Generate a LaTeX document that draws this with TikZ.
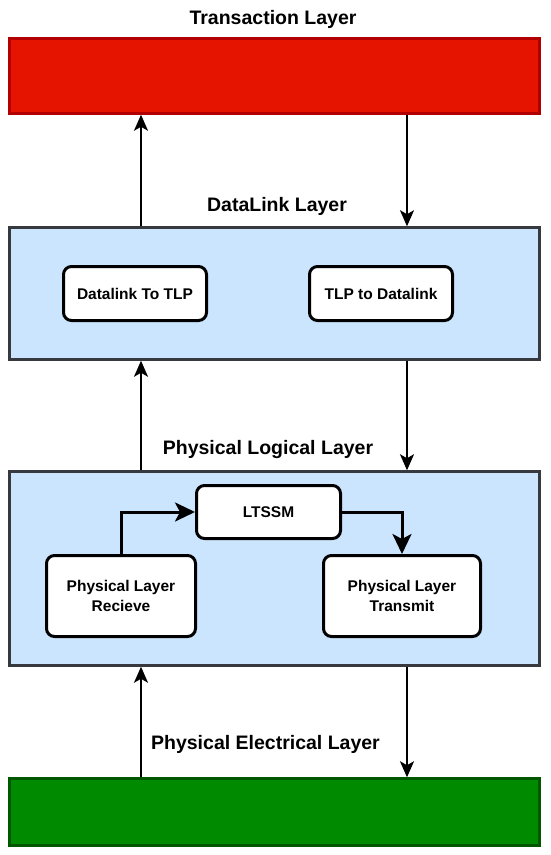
\documentclass[tikz,border=0pt]{standalone}
\usepackage{fontspec}
\setmainfont{Liberation Sans}
\usetikzlibrary{arrows.meta,positioning}

\definecolor{txfill}{HTML}{E51400}
\definecolor{txline}{HTML}{B20000}
\definecolor{elfill}{HTML}{008A00}
\definecolor{elline}{HTML}{005700}
\definecolor{lyfill}{HTML}{CCE5FF}
\definecolor{lyline}{HTML}{36393D}

\begin{document}
\begin{tikzpicture}[x=1pt, y=-1pt,
  layer/.style={rectangle, line width=2.5pt, minimum width=530pt},
  blk/.style={rectangle, rounded corners=8pt, draw=black, fill=white, line width=3pt, align=center, font=\fontsize{15.5}{20}\selectfont\bfseries},
  title/.style={font=\fontsize{19.5}{23}\selectfont\bfseries},
  link/.style={-{Stealth[length=16pt, width=14pt, inset=4pt]}, line width=2pt},
  flow/.style={-{Stealth[length=20pt, width=19pt, inset=5pt]}, line width=3pt}]
\useasboundingbox (0,0) rectangle (550,855);
% layers
\node[layer, draw=txline, fill=txfill, minimum height=75pt] (tl) at (274.5,76) {};
\node[layer, draw=lyline, fill=lyfill, minimum height=132pt] (dll) at (274.5,293.5) {};
\node[layer, draw=lyline, fill=lyfill, minimum height=194pt] (pll) at (274.5,568.5) {};
\node[layer, draw=elline, fill=elfill, minimum height=67pt] (pel) at (274.5,812) {};
% titles
\node[title] (tlt) at (273,19) {Transaction Layer};
\node[title] (dllt) at (277,206) {DataLink Layer};
\node[title] (pllt) at (268,449) {Physical Logical Layer};
\node[title] (pelt) at (265.5,744) {Physical Electrical Layer};
% inner blocks
\node[blk, minimum width=143pt, minimum height=54pt] (d2t) at (135,293.5) {Datalink To TLP};
\node[blk, minimum width=143pt, minimum height=54pt] (t2d) at (381,293.5) {TLP to Datalink};
\node[blk, minimum width=144pt, minimum height=53pt] (ltssm) at (268.5,512) {LTSSM};
\node[blk, minimum width=149pt, minimum height=81pt] (rx) at (121,596) {Physical Layer\\Recieve};
\node[blk, minimum width=157pt, minimum height=81pt] (tx) at (402,596) {Physical Layer\\Transmit};
% arrow columns
\coordinate (upx) at (141,0);
\coordinate (dnx) at (407,0);
\draw[link] (dll.north -| upx) -- (tl.south -| upx);
\draw[link] (tl.south -| dnx) -- (dll.north -| dnx);
\draw[link] (pll.north -| upx) -- (dll.south -| upx);
\draw[link] (dll.south -| dnx) -- (pll.north -| dnx);
\draw[link] (pel.north -| upx) -- (pll.south -| upx);
\draw[link] (pll.south -| dnx) -- (pel.north -| dnx);
\draw[flow] (rx.north) |- (ltssm.west);
\draw[flow] (ltssm.east) -| (tx.north);
\end{tikzpicture}
\end{document}
